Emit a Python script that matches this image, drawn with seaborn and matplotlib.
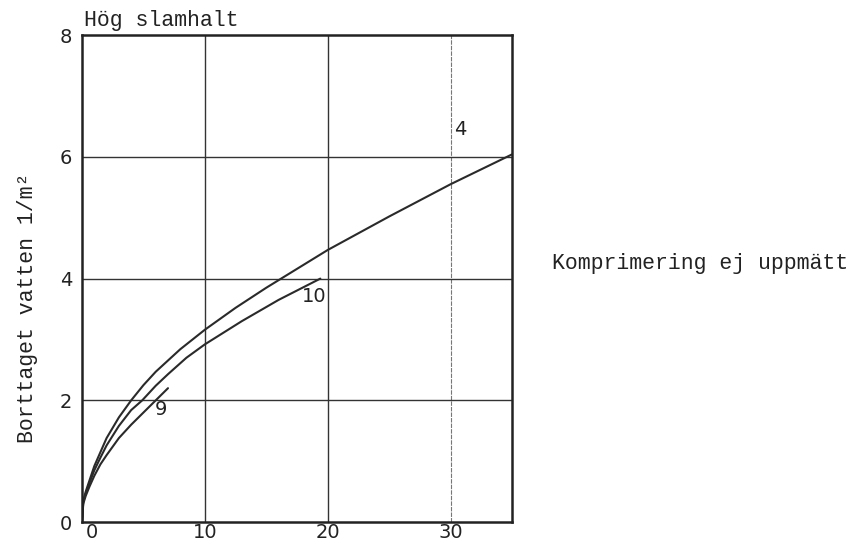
import numpy as np
import pandas as pd
import matplotlib
matplotlib.use("Agg")
import matplotlib.pyplot as plt
import matplotlib.transforms as mtransforms
import seaborn as sns

# curve 4
x4 = [0, 0.1, 0.3, 0.6, 1, 1.5, 2, 3, 4, 5, 6, 8, 10, 12.5, 15, 20, 25, 30, 35]
y4 = [0, 0.35, 0.5, 0.68, 0.92, 1.15, 1.38, 1.72, 2.0, 2.25, 2.47, 2.84, 3.16, 3.52, 3.85, 4.47, 5.02, 5.55, 6.04]
# curve 10
x10 = [0, 0.1, 0.3, 0.6, 1, 1.5, 2, 3, 4, 4.9, 6, 7, 8.5, 10, 13, 16, 19.4]
y10 = [0, 0.33, 0.47, 0.64, 0.85, 1.06, 1.26, 1.58, 1.84, 2.0, 2.24, 2.43, 2.7, 2.92, 3.3, 3.65, 4.0]
# curve 9
x9 = [0, 0.1, 0.3, 0.6, 1, 1.5, 2, 3, 4, 5, 5.9, 7]
y9 = [0, 0.3, 0.43, 0.58, 0.76, 0.95, 1.1, 1.38, 1.6, 1.8, 1.98, 2.2]

curve_labels = ["4", "10", "9"]
label_x = [30.8, 18.9, 6.4]
label_y = [6.45, 3.7, 1.85]

df = pd.concat([
    pd.DataFrame({"x": x4, "y": y4, "kurva": "4"}),
    pd.DataFrame({"x": x10, "y": y10, "kurva": "10"}),
    pd.DataFrame({"x": x9, "y": y9, "kurva": "9"}),
])

sns.set_style("white")
mono = ["Liberation Mono", "DejaVu Sans Mono"]

fig = plt.figure(figsize=(8.57, 5.45), dpi=100)
ax = fig.add_axes([0.0957, 0.042, 0.5017, 0.8936])

sns.lineplot(data=df, x="x", y="y", units="kurva", estimator=None, sort=False,
             color="#2a2a2a", lw=1.5, ax=ax)

ax.set_xlim(0, 35)
ax.set_ylim(0, 8)
ax.set_xticks([0, 10, 20, 30])
ax.set_yticks([0, 2, 4, 6, 8])
for gx in [10, 20]:
    ax.axvline(gx, color="#333333", lw=1.0, zorder=0)
ax.axvline(30, color="#777777", lw=0.8, ls=(0, (4, 1)), zorder=0)
for gy in [2, 4, 6]:
    ax.axhline(gy, color="#333333", lw=1.0, zorder=0)

for s in ax.spines.values():
    s.set_color("#222222")
    s.set_linewidth(1.8)
ax.tick_params(axis="x", length=0, labelsize=14, colors="#222222", pad=1)
ax.tick_params(axis="y", length=0, labelsize=14, colors="#222222", pad=7)
# the 0 label sits a bit right of the corner
xl0 = ax.get_xticklabels()[0]
xl0.set_transform(xl0.get_transform() + mtransforms.ScaledTranslation(0.1, 0, fig.dpi_scale_trans))

ax.set_xlabel("")
ax.set_ylabel("Borttaget vatten 1/m²", family=mono, fontsize=15.5, color="#222222")
ax.yaxis.set_label_coords(-0.103, 0.44)

for lab, lx, ly in zip(curve_labels, label_x, label_y):
    ax.text(lx, ly, lab, fontsize=14, color="#222222", ha="center", va="center")

ax.text(0.005, 1.008, "Hög slamhalt", transform=ax.transAxes, family=mono,
        fontsize=15.5, color="#222222", ha="left", va="bottom")
fig.text(0.644, 0.517, "Komprimering ej uppmätt", family=mono, fontsize=15.5,
         color="#222222", ha="left", va="center")

fig.savefig("out.png", dpi=100)
